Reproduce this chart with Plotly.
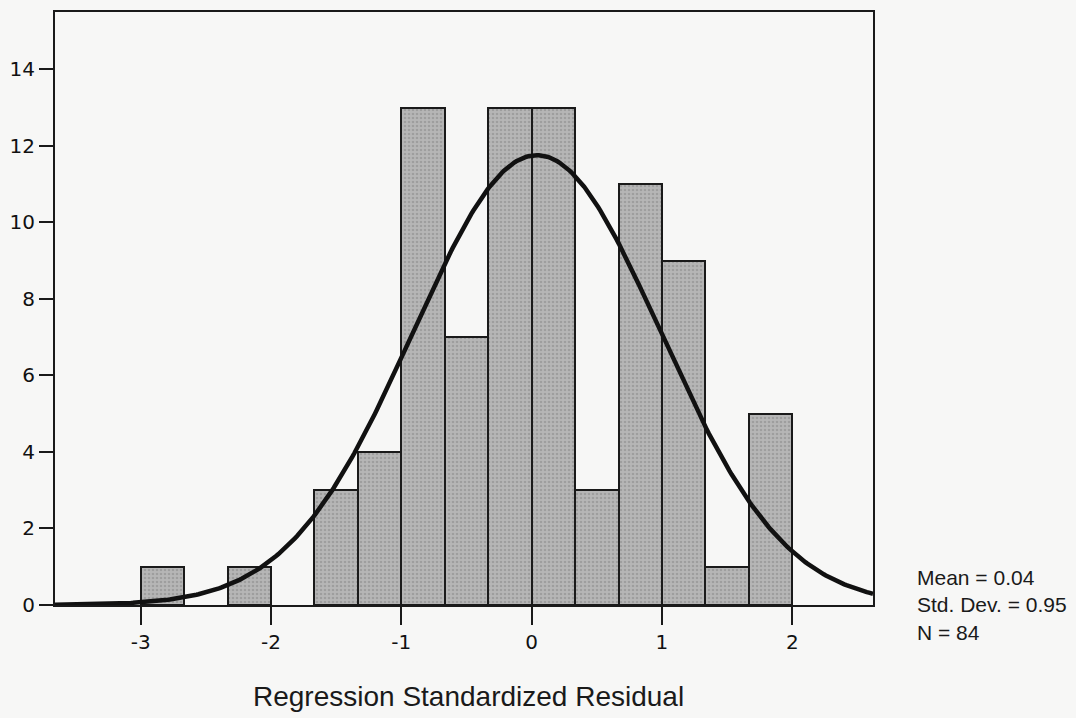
import numpy as np
import plotly.graph_objects as go

# ---- data ----
bin_start = -3.0
bin_width = 1.0 / 3.0
counts = [1, 0, 1, 0, 3, 4, 13, 7, 13, 13, 3, 11, 9, 1, 5]
stat_mean = 0.04
stat_sd = 0.95
stat_n = 84
x_ticks = [-3, -2, -1, 0, 1, 2]
y_ticks = [0, 2, 4, 6, 8, 10, 12, 14]
stats_text = ["Mean = 0.04", "Std. Dev. = 0.95", "N = 84"]
x_title = "Regression Standardized Residual"

x_range = [-3.657, 2.619]
y_range = [0, 15.5]

centers = [bin_start + bin_width * (i + 0.5) for i in range(len(counts))]
bx = [c for c, v in zip(centers, counts) if v > 0]
by = [v for v in counts if v > 0]

# fitted normal curve (from the stated mean/sd/N)
cx = np.linspace(x_range[0], x_range[1], 400)
cy = stat_n * bin_width / (stat_sd * np.sqrt(2 * np.pi)) * np.exp(-0.5 * ((cx - stat_mean) / stat_sd) ** 2)

fig = go.Figure()
fig.add_trace(go.Bar(
    x=bx, y=by, width=bin_width,
    marker=dict(
        color="#b2b2b2",
        line=dict(color="#1a1a1a", width=2),
        pattern=dict(shape=".", fgcolor="#858585", bgcolor="#b6b6b6", size=4, solidity=0.35),
    ),
    showlegend=False, hoverinfo="skip",
))
fig.add_trace(go.Scatter(
    x=cx, y=cy, mode="lines",
    line=dict(color="#111111", width=4.5),
    showlegend=False, hoverinfo="skip",
))

tick_font = dict(family="DejaVu Sans", size=20, color="#111111")
fig.update_layout(
    width=1076, height=718,
    margin=dict(l=52, r=203, t=10, b=113),
    paper_bgcolor="#f7f7f6", plot_bgcolor="#f7f7f6",
    bargap=0,
    xaxis=dict(
        range=x_range, tickvals=x_ticks, ticktext=[str(t) for t in x_ticks],
        showgrid=False, zeroline=False, showline=True, linecolor="#1a1a1a", linewidth=2,
        mirror=True, ticks="outside", ticklen=18, tickwidth=2, tickcolor="#1a1a1a",
        tickfont=tick_font,
    ),
    yaxis=dict(
        range=y_range, tickvals=y_ticks, ticktext=[str(t) for t in y_ticks],
        showgrid=False, zeroline=False, showline=True, linecolor="#1a1a1a", linewidth=2,
        mirror=True, ticks="outside", ticklen=14, tickwidth=2, tickcolor="#1a1a1a",
        tickfont=tick_font,
    ),
)

fig.add_annotation(
    text="<br>".join(stats_text), xref="paper", yref="paper",
    x=1.051, y=0.0, xanchor="left", yanchor="middle", align="left", showarrow=False,
    font=dict(family="Liberation Sans", size=21, color="#1a1a1a"),
)
fig.add_annotation(
    text=x_title, xref="paper", yref="paper",
    x=(467 - 52) / 821, y=-(697 - 605) / 595, xanchor="center", yanchor="middle",
    showarrow=False,
    font=dict(family="Liberation Sans", size=28, color="#1a1a1a"),
)

fig.write_html(
    "out.html",
    config={"displayModeBar": False},
    post_script="document.body.style.margin='0';",
)
